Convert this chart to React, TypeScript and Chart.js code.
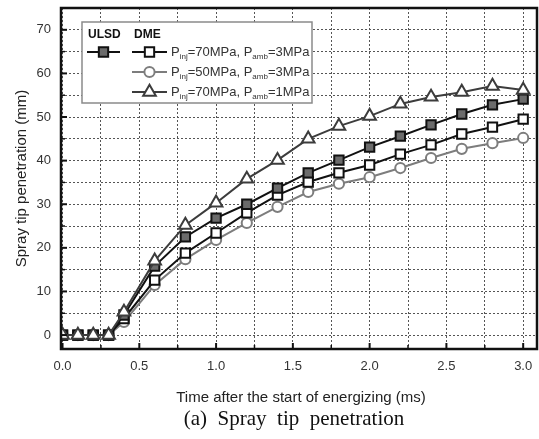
import React, { useEffect, useRef } from 'react';
import { Chart, registerables } from 'chart.js';
Chart.register(...registerables);

// ---- data ----
const times = [0, 0.1, 0.2, 0.3, 0.4, 0.6, 0.8, 1.0, 1.2, 1.4, 1.6, 1.8, 2.0, 2.2, 2.4, 2.6, 2.8, 3.0];
const ulsd70_3 = [0, 0, 0, 0, 4.6, 15.8, 22.5, 26.8, 30.0, 33.7, 37.2, 40.1, 43.1, 45.6, 48.2, 50.7, 52.8, 54.1];
const dme70_3 = [0, 0, 0, 0, 3.8, 12.6, 18.8, 23.4, 28.0, 32.1, 35.1, 37.2, 39.0, 41.5, 43.6, 46.1, 47.7, 49.5];
const dme50_3 = [0, 0, 0, 0, 3.0, 11.5, 17.4, 21.8, 25.7, 29.4, 32.8, 34.7, 36.2, 38.3, 40.6, 42.7, 44.0, 45.2];
const dme70_1 = [0, 0, 0, 0, 5.3, 17.0, 25.2, 30.3, 35.8, 40.1, 45.0, 47.9, 50.2, 53.0, 54.6, 55.7, 57.1, 56.2];

const xTicks = [0, 0.25, 0.5, 0.75, 1.0, 1.25, 1.5, 1.75, 2.0, 2.25, 2.5, 2.75, 3.0];
const xLabeled = [0, 0.5, 1.0, 1.5, 2.0, 2.5, 3.0];
const yTicks = [0, 5, 10, 15, 20, 25, 30, 35, 40, 45, 50, 55, 60, 65, 70];
const yLabeled = [0, 10, 20, 30, 40, 50, 60, 70];

const fuelHeaders = ['ULSD', 'DME'];
const injPressures = ['70', '50', '70'];
const ambPressures = ['3', '3', '1'];

const xTitle = 'Time after the start of energizing (ms)';
const yTitle = 'Spray tip penetration (mm)';
const caption = '(a)  Spray  tip  penetration';

const SANS = '"Liberation Sans", Arial, sans-serif';
const SERIF = '"Liberation Serif", "Times New Roman", serif';

const C_ULSD = '#111111';
const C_FILL = '#6b6b6b';
const C_OPEN = '#111111';
const C_CIRC = '#7d7d7d';
const C_TRI = '#3c3c3c';

const R_RECT = 6.6;
const R_CIRC = 5.1;
const R_TRI = 7.3;

function drawMarker(ctx: CanvasRenderingContext2D, kind: string, x: number, y: number, stroke: string, fill: string) {
  ctx.save();
  ctx.lineWidth = 2;
  ctx.strokeStyle = stroke;
  ctx.fillStyle = fill;
  ctx.beginPath();
  if (kind === 'rect') {
    const h = Math.SQRT1_2 * R_RECT;
    ctx.rect(x - h, y - h, 2 * h, 2 * h);
  } else if (kind === 'circle') {
    ctx.arc(x, y, R_CIRC, 0, Math.PI * 2);
  } else {
    for (let i = 0; i < 3; i++) {
      const a = -Math.PI / 2 + (i * 2 * Math.PI) / 3;
      const px = x + Math.cos(a) * R_TRI;
      const py = y + Math.sin(a) * R_TRI;
      if (i === 0) ctx.moveTo(px, py); else ctx.lineTo(px, py);
    }
    ctx.closePath();
  }
  ctx.fill();
  ctx.stroke();
  ctx.restore();
}

function drawSample(ctx: CanvasRenderingContext2D, kind: string, x0: number, x1: number, y: number, stroke: string, fill: string) {
  ctx.save();
  ctx.strokeStyle = stroke;
  ctx.lineWidth = 2;
  ctx.beginPath();
  ctx.moveTo(x0, y);
  ctx.lineTo(x1, y);
  ctx.stroke();
  ctx.restore();
  drawMarker(ctx, kind, (x0 + x1) / 2, y, stroke, fill);
}

function drawSubText(ctx: CanvasRenderingContext2D, x: number, y: number, parts: [string, boolean][]) {
  let cx = x;
  ctx.save();
  ctx.fillStyle = '#333';
  ctx.textBaseline = 'middle';
  ctx.textAlign = 'left';
  for (const [t, sub] of parts) {
    ctx.font = sub ? `8px ${SANS}` : `13px ${SANS}`;
    ctx.fillText(t, cx, sub ? y + 5 : y);
    cx += ctx.measureText(t).width;
  }
  ctx.restore();
}

const decorPlugin = {
  id: 'decor',
  afterDraw(chart: any) {
    const ctx: CanvasRenderingContext2D = chart.ctx;
    const { left, right, top, bottom } = chart.chartArea;
    const xs = chart.scales.x;
    const ys = chart.scales.y;

    // inward ticks
    ctx.save();
    ctx.strokeStyle = '#111';
    for (const v of xTicks) {
      const px = xs.getPixelForValue(v);
      const major = xLabeled.includes(v);
      ctx.lineWidth = major ? 2 : 1.5;
      ctx.beginPath();
      ctx.moveTo(px, bottom);
      ctx.lineTo(px, bottom - (major ? 6 : 4));
      ctx.stroke();
    }
    for (const v of yTicks) {
      const py = ys.getPixelForValue(v);
      const major = yLabeled.includes(v);
      ctx.lineWidth = major ? 2 : 1.5;
      ctx.beginPath();
      ctx.moveTo(left, py);
      ctx.lineTo(left + (major ? 6 : 4), py);
      ctx.stroke();
    }
    // frame
    ctx.lineWidth = 2.5;
    ctx.strokeRect(left, top, right - left, bottom - top);
    ctx.restore();

    // legend
    const lx = 82, ly = 22, lw = 230, lh = 81;
    ctx.save();
    ctx.fillStyle = '#fff';
    ctx.fillRect(lx, ly, lw, lh);
    ctx.strokeStyle = '#8a8a8a';
    ctx.lineWidth = 1.5;
    ctx.strokeRect(lx, ly, lw, lh);
    ctx.fillStyle = '#111';
    ctx.font = `bold 12px ${SANS}`;
    ctx.textBaseline = 'middle';
    ctx.textAlign = 'left';
    ctx.fillText(fuelHeaders[0], 88, 35);
    ctx.fillText(fuelHeaders[1], 134, 35);
    ctx.restore();

    const rowsY = [52, 72, 92];
    drawSample(ctx, 'rect', 87, 120, rowsY[0], C_ULSD, C_FILL);
    const kinds = ['rect', 'circle', 'triangle'];
    const strokes = [C_OPEN, C_CIRC, C_TRI];
    for (let i = 0; i < 3; i++) {
      drawSample(ctx, kinds[i], 132, 167, rowsY[i], strokes[i], '#fff');
      drawSubText(ctx, 171, rowsY[i], [
        ['P', false], ['inj', true], [`=${injPressures[i]}MPa, P`, false], ['amb', true], [`=${ambPressures[i]}MPa`, false],
      ]);
    }

    // titles
    ctx.save();
    ctx.fillStyle = '#222';
    ctx.font = `15px ${SANS}`;
    ctx.textAlign = 'center';
    ctx.textBaseline = 'middle';
    ctx.fillText(xTitle, 301, 398);
    ctx.translate(22, (top + bottom) / 2);
    ctx.rotate(-Math.PI / 2);
    ctx.fillText(yTitle, 0, 0);
    ctx.restore();

    ctx.save();
    ctx.fillStyle = '#111';
    ctx.font = `21px ${SERIF}`;
    ctx.textAlign = 'center';
    ctx.textBaseline = 'middle';
    ctx.fillText(caption, 294, 419);
    ctx.restore();
  },
};

function pts(arr: number[]) {
  return times.map((t, i) => ({ x: t, y: arr[i] }));
}

const zeroPad = () => ({ left: 0, top: 0, right: 0, bottom: 0 });

export default function App() {
  const ref = useRef<HTMLCanvasElement>(null);
  useEffect(() => {
    document.body.style.margin = '0';
    const canvas = ref.current!;
    const chart = new Chart(canvas, {
      type: 'line',
      data: {
        datasets: [
          {
            label: 'DME Pinj=70MPa, Pamb=1MPa',
            data: pts(dme70_1),
            borderColor: C_TRI,
            backgroundColor: '#fff',
            pointStyle: 'triangle',
            pointRadius: R_TRI,
            pointBorderWidth: 2,
            borderWidth: 2,
          },
          {
            label: 'ULSD Pinj=70MPa, Pamb=3MPa',
            data: pts(ulsd70_3),
            borderColor: C_ULSD,
            backgroundColor: C_FILL,
            pointStyle: 'rect',
            pointRadius: R_RECT,
            pointBorderWidth: 2,
            borderWidth: 2,
          },
          {
            label: 'DME Pinj=70MPa, Pamb=3MPa',
            data: pts(dme70_3),
            borderColor: C_OPEN,
            backgroundColor: '#fff',
            pointStyle: 'rect',
            pointRadius: R_RECT,
            pointBorderWidth: 2,
            borderWidth: 2,
          },
          {
            label: 'DME Pinj=50MPa, Pamb=3MPa',
            data: pts(dme50_3),
            borderColor: C_CIRC,
            backgroundColor: '#fff',
            pointStyle: 'circle',
            pointRadius: R_CIRC,
            pointBorderWidth: 2,
            borderWidth: 2,
          },
        ],
      },
      options: {
        responsive: false,
        animation: false,
        devicePixelRatio: 1,
        layout: { autoPadding: false, padding: { top: 8, right: 2, left: 0, bottom: 0 } },
        plugins: { legend: { display: false }, tooltip: { enabled: false } },
        scales: {
          x: {
            type: 'linear',
            min: -0.01,
            max: 3.09,
            afterBuildTicks: (s: any) => { s.ticks = xTicks.map((v) => ({ value: v })); },
            afterFit: (s: any) => {
              s.height = 90;
              s.paddingLeft = 0;
              s.paddingRight = 0;
              s.getPadding = zeroPad;
            },
            ticks: {
              autoSkip: false,
              maxRotation: 0,
              padding: 10,
              color: '#333',
              font: { size: 13, family: SANS },
              callback: (v: any) => (xLabeled.includes(Number(v)) ? Number(v).toFixed(1) : ''),
            },
            grid: { color: '#555', lineWidth: 1, drawTicks: false },
            border: { display: false, dash: [2, 2] },
          },
          y: {
            type: 'linear',
            min: -3.2,
            max: 75,
            afterBuildTicks: (s: any) => { s.ticks = yTicks.map((v) => ({ value: v })); },
            afterFit: (s: any) => {
              s.width = 61;
              s.paddingTop = 0;
              s.paddingBottom = 0;
              s.getPadding = zeroPad;
            },
            ticks: {
              autoSkip: false,
              padding: 10,
              color: '#333',
              font: { size: 13, family: SANS },
              callback: (v: any) => (yLabeled.includes(Number(v)) ? String(v) : ''),
            },
            grid: { color: '#555', lineWidth: 1, drawTicks: false },
            border: { display: false, dash: [2, 2] },
          },
        },
      },
      plugins: [decorPlugin],
    } as any);
    return () => chart.destroy();
  }, []);
  return <canvas ref={ref} width={539} height={439} style={{ display: 'block', width: 539, height: 439 }} />;
}
